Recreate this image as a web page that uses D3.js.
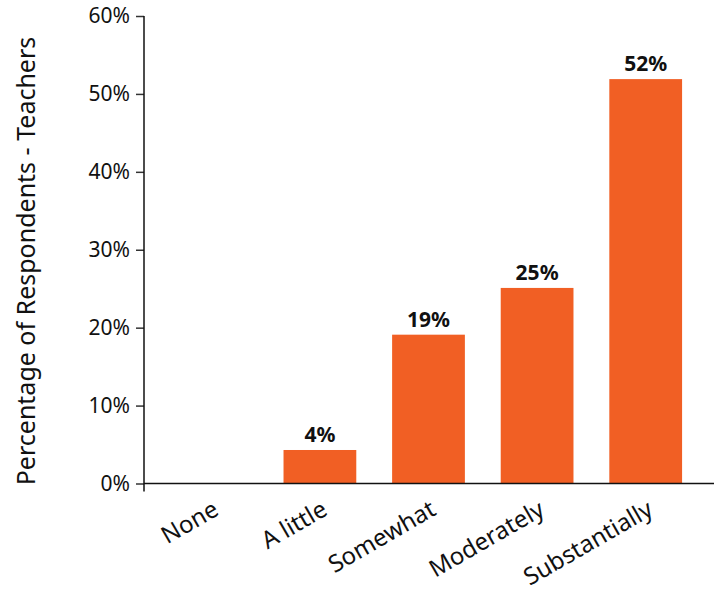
<!DOCTYPE html>
<html>
<head>
<meta charset="utf-8">
<script src="https://cdn.jsdelivr.net/npm/d3@7"></script>
<style>
  body { margin: 0; background: #fff; }
  text { font-family: "Noto Sans", "Open Sans", sans-serif; fill: #111; }
</style>
</head>
<body>
<script>
// data
var categories = ["None", "A little", "Somewhat", "Moderately", "Substantially"];
var values = [0, 4.3, 19.1, 25.1, 51.9];
var labels = ["", "4%", "19%", "25%", "52%"];
var yTicks = [0, 10, 20, 30, 40, 50, 60];

var W = 714, H = 593;
var x0 = 144, yBase = 483.5, yTop = 16;

var svg = d3.select("body").append("svg")
    .attr("width", W)
    .attr("height", H);

var x = d3.scaleBand()
    .domain(categories)
    .range([157, 700])
    .paddingInner(0.33)
    .paddingOuter(0.165);

var y = d3.scaleLinear()
    .domain([0, 60])
    .range([yBase, yTop]);

// bars
svg.append("g").selectAll("rect")
    .data(values)
    .enter().append("rect")
    .attr("x", function (d, i) { return x(categories[i]); })
    .attr("y", function (d) { return y(d); })
    .attr("width", x.bandwidth())
    .attr("height", function (d) { return yBase - y(d); })
    .attr("fill", "#f15f24");

// value labels
svg.append("g").selectAll("text")
    .data(values)
    .enter().append("text")
    .attr("x", function (d, i) { return x(categories[i]) + x.bandwidth() / 2; })
    .attr("y", function (d) { return y(d) - 8; })
    .attr("text-anchor", "middle")
    .style("font-size", "21px")
    .style("font-weight", "bold")
    .text(function (d, i) { return labels[i]; });

// y axis
var yAxis = d3.axisLeft(y)
    .tickValues(yTicks)
    .tickFormat(function (d) { return d + "%"; })
    .tickSize(8)
    .tickSizeOuter(0)
    .tickPadding(6);

var gy = svg.append("g")
    .attr("transform", "translate(" + x0 + ",0)")
    .call(yAxis);
gy.select(".domain").remove();
gy.selectAll(".tick line").attr("stroke", "#333").attr("stroke-width", 1.5);
gy.selectAll(".tick text").style("font-size", "21px").attr("fill", "#111");

// axis lines
svg.append("line")
    .attr("x1", x0).attr("x2", x0)
    .attr("y1", yTop).attr("y2", yBase + 8)
    .attr("stroke", "#111").attr("stroke-width", 1.5);
svg.append("line")
    .attr("x1", x0).attr("x2", W)
    .attr("y1", yBase).attr("y2", yBase)
    .attr("stroke", "#111").attr("stroke-width", 1.5);

// category labels, rotated
svg.append("g").selectAll("text.cat")
    .data(categories)
    .enter().append("text")
    .attr("class", "cat")
    .attr("text-anchor", "end")
    .attr("transform", function (d) {
        var cx = x(d) + x.bandwidth() / 2 + 9;
        return "translate(" + cx + ",514) rotate(-30)";
    })
    .style("font-size", "24px")
    .text(function (d) { return d; });

// y title
svg.append("text")
    .attr("transform", "translate(35,261) rotate(-90)")
    .attr("text-anchor", "middle")
    .style("font-size", "25px")
    .text("Percentage of Respondents - Teachers");
</script>
</body>
</html>
